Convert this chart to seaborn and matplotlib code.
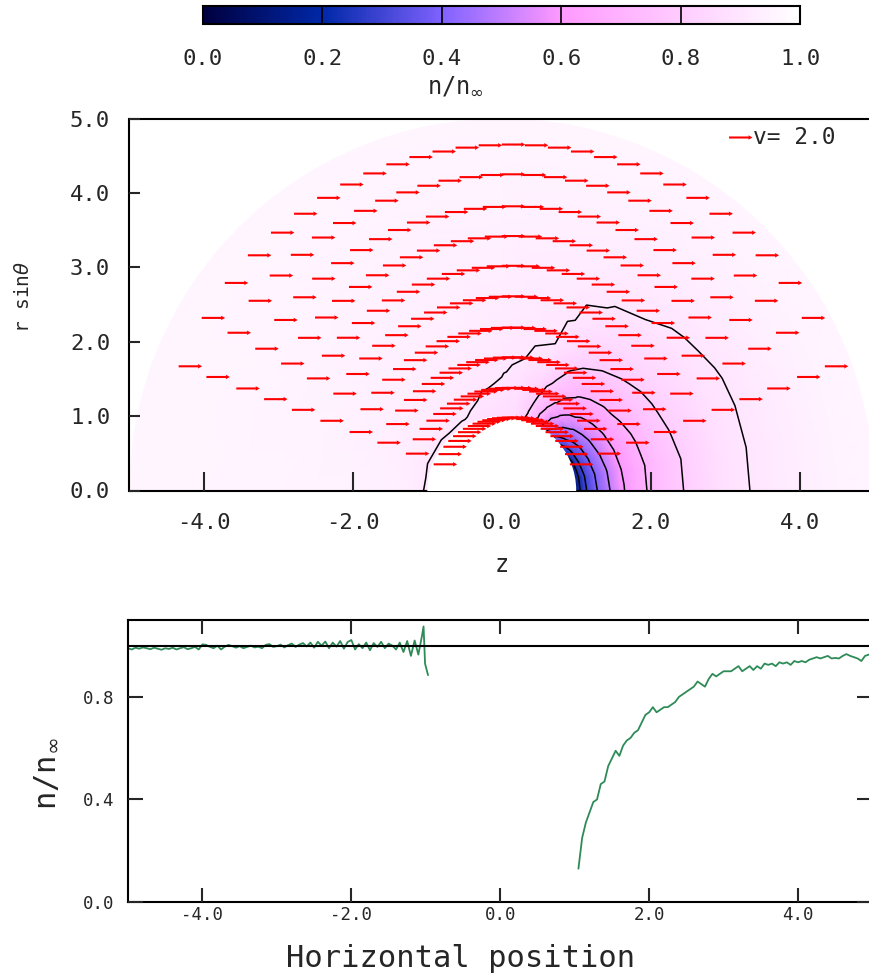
import numpy as np
import matplotlib
matplotlib.use("Agg")
import matplotlib.pyplot as plt
import matplotlib.tri as mtri
from matplotlib.colors import LinearSegmentedColormap, Normalize
from matplotlib.cm import ScalarMappable
from matplotlib.patches import Circle
import seaborn as sns

# Density n/n_inf on a (theta, r) table
RADII = [1.0, 1.1, 1.25, 1.4, 1.6, 1.8, 2.1, 2.5, 3.0, 3.5, 4.0, 4.5, 5.0, 5.4]
THETA_DEG = [0, 10, 20, 30, 40, 50, 60, 70, 80, 90, 105, 120, 140, 160, 180]
DENSITY = [
    [0.12, 0.27, 0.38, 0.47, 0.58, 0.66, 0.74, 0.81, 0.88, 0.91, 0.93, 0.95, 0.96, 0.96],
    [0.13, 0.28, 0.39, 0.48, 0.59, 0.66, 0.74, 0.81, 0.88, 0.91, 0.93, 0.95, 0.96, 0.96],
    [0.16, 0.30, 0.41, 0.50, 0.60, 0.67, 0.75, 0.82, 0.88, 0.91, 0.93, 0.95, 0.96, 0.96],
    [0.22, 0.34, 0.44, 0.53, 0.62, 0.69, 0.76, 0.83, 0.885, 0.91, 0.935, 0.95, 0.96, 0.96],
    [0.32, 0.41, 0.49, 0.57, 0.65, 0.71, 0.78, 0.84, 0.89, 0.915, 0.935, 0.95, 0.96, 0.96],
    [0.45, 0.51, 0.57, 0.63, 0.69, 0.74, 0.80, 0.855, 0.90, 0.92, 0.94, 0.95, 0.96, 0.96],
    [0.62, 0.65, 0.68, 0.72, 0.76, 0.79, 0.84, 0.88, 0.91, 0.925, 0.94, 0.95, 0.96, 0.96],
    [0.78, 0.79, 0.80, 0.82, 0.845, 0.88, 0.90, 0.91, 0.92, 0.93, 0.945, 0.955, 0.96, 0.96],
    [0.86, 0.865, 0.87, 0.875, 0.89, 0.90, 0.91, 0.915, 0.925, 0.935, 0.945, 0.955, 0.96, 0.96],
    [0.87, 0.88, 0.885, 0.895, 0.903, 0.91, 0.915, 0.925, 0.935, 0.94, 0.95, 0.955, 0.96, 0.96],
    [0.88, 0.89, 0.90, 0.905, 0.915, 0.92, 0.93, 0.935, 0.94, 0.945, 0.95, 0.955, 0.96, 0.96],
    [0.885, 0.905, 0.915, 0.92, 0.925, 0.93, 0.935, 0.94, 0.945, 0.95, 0.955, 0.96, 0.96, 0.96],
    [0.885, 0.91, 0.92, 0.925, 0.93, 0.935, 0.94, 0.945, 0.95, 0.955, 0.955, 0.96, 0.96, 0.96],
    [0.885, 0.91, 0.925, 0.93, 0.935, 0.94, 0.945, 0.95, 0.95, 0.955, 0.96, 0.96, 0.96, 0.96],
    [0.885, 0.915, 0.93, 0.935, 0.94, 0.945, 0.95, 0.95, 0.955, 0.955, 0.96, 0.96, 0.96, 0.96],
]
CONTOUR_LEVELS = [0.1, 0.2, 0.3, 0.4, 0.5, 0.6, 0.7, 0.8, 0.9]

# velocity arrows: rings of radius r, placed at even steps of cos(theta)
ARROW_RINGS = [0.98, 1.38, 1.79, 2.19, 2.61, 3.02, 3.42, 3.82, 4.25, 4.65]
ARROW_COS = [k / 15 - 1 for k in range(1, 30)]
ARROW_SPEED = 2.0

# lineout along the axis (upstream and downstream of the sphere)
Z_UP = [round(-5.0 + 0.05 * i, 2) for i in range(80)] + [-1.03, -1.01, -0.97]
N_UP = [0.990, 0.985, 0.992, 0.988, 0.993, 0.990, 0.986, 0.992, 0.988, 0.984,
        0.990, 0.987, 0.992, 0.985, 0.990, 0.994, 0.986, 0.990, 0.995, 0.985,
        1.005, 1.003, 0.995, 0.990, 1.000, 0.985, 0.996, 1.003, 0.998, 0.992,
        0.998, 0.990, 0.995, 1.000, 0.993, 0.996, 0.990, 1.003, 1.006, 0.995,
        0.998, 1.004, 0.993, 1.002, 1.008, 0.995, 1.004, 1.010, 0.997, 1.012,
        0.992, 1.015, 1.000, 1.016, 0.990, 1.012, 0.996, 1.018, 0.988, 1.014,
        1.022, 0.985, 1.006, 0.990, 1.012, 0.982, 1.010, 0.995, 1.015, 0.990,
        1.008, 1.000, 0.985, 1.012, 0.975, 1.018, 0.960, 1.020, 0.965, 1.040,
        1.075, 0.930, 0.885]
Z_DOWN = [round(1.05 + 0.05 * i, 2) for i in range(80)]
N_DOWN = [0.13, 0.25, 0.31, 0.35, 0.39, 0.40, 0.46, 0.47, 0.53, 0.56,
          0.59, 0.57, 0.61, 0.63, 0.64, 0.66, 0.67, 0.70, 0.73, 0.74,
          0.76, 0.74, 0.75, 0.76, 0.76, 0.77, 0.78, 0.80, 0.81, 0.82,
          0.83, 0.84, 0.86, 0.85, 0.84, 0.87, 0.89, 0.88, 0.89, 0.90,
          0.90, 0.90, 0.91, 0.92, 0.90, 0.91, 0.92, 0.905, 0.92, 0.91,
          0.93, 0.925, 0.93, 0.92, 0.935, 0.93, 0.935, 0.925, 0.94, 0.935,
          0.94, 0.935, 0.945, 0.95, 0.955, 0.95, 0.955, 0.96, 0.95, 0.952,
          0.95, 0.96, 0.967, 0.96, 0.955, 0.95, 0.94, 0.96, 0.965, 0.97]

CBAR_TICKS = [0.0, 0.2, 0.4, 0.6, 0.8, 1.0]
CMAP_STOPS = [(0.0, "#000040"), (0.2, "#0028a8"), (0.4, "#8062ff"),
              (0.6, "#ff99ff"), (0.8, "#ffccff"), (1.0, "#ffffff")]

sns.set_theme(style="ticks")
plt.rcParams["font.family"] = ["DejaVu Sans Mono", "DejaVu Sans"]
plt.rcParams["mathtext.fontset"] = "dejavusans"
plt.rcParams["axes.unicode_minus"] = False
plt.rcParams["axes.linewidth"] = 1.5
plt.rcParams["axes.edgecolor"] = "black"
plt.rcParams["axes.axisbelow"] = False

cmap = LinearSegmentedColormap.from_list("dens", CMAP_STOPS)
norm = Normalize(0.0, 1.0)

fig = plt.figure(figsize=(8.7, 9.77), dpi=100)
W, H = 870.0, 977.0
cax = fig.add_axes([203 / W, 1 - 24 / H, 597 / W, 18 / H])
ax1 = fig.add_axes([129.5 / W, 1 - 490.5 / H, 744.5 / W, 372 / H])
ax2 = fig.add_axes([128 / W, 1 - 902 / H, 744.5 / W, 282 / H])

# ---- density map
rr, tt = np.meshgrid(RADII, np.radians(THETA_DEG))
zz = (rr * np.cos(tt)).ravel()
yy = (rr * np.sin(tt)).ravel()
nr = len(RADII)
tris = []
for i in range(len(THETA_DEG) - 1):
    for j in range(nr - 1):
        a = i * nr + j
        tris.append([a, a + 1, a + nr + 1])
        tris.append([a, a + nr + 1, a + nr])
tri = mtri.Triangulation(zz, yy, tris)
dens = np.array(DENSITY).ravel()

clip = Circle((0, 0), 5.0, transform=ax1.transData)
pc = ax1.tripcolor(tri, dens, cmap=cmap, norm=norm, shading="gouraud", zorder=1)
pc.set_clip_path(clip)
cs = ax1.tricontour(tri, dens, levels=CONTOUR_LEVELS, colors="black", linewidths=1.1, zorder=2)
cs.set_clip_path(clip)
ax1.add_patch(Circle((0, 0), 1.0, facecolor="white", edgecolor="none", zorder=3))

# ---- velocity arrows
az, ay = [], []
for r in ARROW_RINGS:
    for c in ARROW_COS:
        az.append(r * c)
        ay.append(r * np.sqrt(1 - c * c))
u = np.full(len(az), ARROW_SPEED)
v = np.zeros(len(az))
q = ax1.quiver(az, ay, u, v, color="red", angles="xy", scale_units="xy", scale=6.35,
               pivot="tail", width=0.0028, headwidth=2.2, headlength=2.0,
               headaxislength=1.8, zorder=5)
ax1.quiverkey(q, 0.836, 0.95, ARROW_SPEED, "v= 2.0", labelpos="E", coordinates="axes",
              labelsep=0.01, fontproperties={"size": 16.5})

ax1.set_xlim(-5, 5)
ax1.set_ylim(0, 5)
ax1.set_facecolor("white")
ax1.set_xticks([-4, -2, 0, 2, 4])
ax1.set_xticklabels(["-4.0", "-2.0", "0.0", "2.0", "4.0"])
ax1.set_yticks([0, 1, 2, 3, 4, 5])
ax1.set_yticklabels(["0.0", "1.0", "2.0", "3.0", "4.0", "5.0"])
ax1.tick_params(axis="x", direction="in", length=14, width=1.5, pad=16, labelsize=16,
                top=False, bottom=True)
ax1.tick_params(axis="y", direction="in", length=8, width=1.5, pad=14, labelsize=16,
                left=True, right=False)
ax1.set_xlabel("z", fontsize=17)
ax1.xaxis.set_label_coords(0.5, -0.168)
ax1.set_ylabel(r"r sin$\theta$", fontsize=14)
ax1.yaxis.set_label_coords(-0.13, 0.52)

# ---- colour bar
sm = ScalarMappable(norm=norm, cmap=cmap)
cb = fig.colorbar(sm, cax=cax, orientation="horizontal", ticks=CBAR_TICKS)
cb.ax.set_axisbelow(False)
cb.ax.set_xticklabels([f"{t:.1f}" for t in CBAR_TICKS])
cb.ax.tick_params(direction="in", length=13, width=1.2, pad=18, labelsize=16, color="black")
cb.outline.set_linewidth(1.5)
cb.set_label(r"n/n$_{\infty}$", fontsize=17)
cb.ax.xaxis.set_label_coords(0.422, -2.75)

# ---- lineout
sns.lineplot(x=Z_UP, y=N_UP, ax=ax2, color="#2e8b57", linewidth=1.3, sort=False,
             estimator=None)
sns.lineplot(x=Z_DOWN, y=N_DOWN, ax=ax2, color="#2e8b57", linewidth=1.3, sort=False,
             estimator=None)
ax2.axhline(1.0, color="black", linewidth=1.5)
ax2.set_xlim(-5, 5)
ax2.set_ylim(0, 1.1)
ax2.set_xticks([-4, -2, 0, 2, 4])
ax2.set_xticklabels(["-4.0", "-2.0", "0.0", "2.0", "4.0"])
ax2.set_yticks([0.0, 0.4, 0.8])
ax2.set_yticklabels(["0.0", "0.4", "0.8"])
ax2.tick_params(axis="x", direction="in", length=10, width=1.5, pad=3, labelsize=12.5,
                top=True, bottom=True)
ax2.tick_params(axis="y", direction="in", length=11, width=1.5, pad=10, labelsize=12.5,
                left=True, right=True)
ax2.set_xlabel("Horizontal position", fontsize=22)
ax2.xaxis.set_label_coords(0.447, -0.148)
ax2.set_ylabel(r"n/n$_{\infty}$", fontsize=22)
ax2.yaxis.set_label_coords(-0.091, 0.457)

fig.savefig("out.png", dpi=100)
